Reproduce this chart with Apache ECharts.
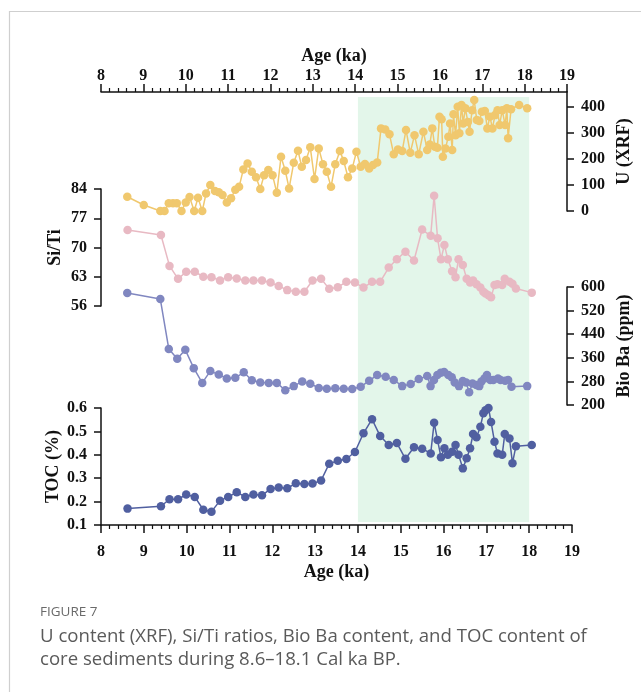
<!DOCTYPE html>
<html>
<head>
<meta charset="utf-8">
<script src="https://cdn.jsdelivr.net/npm/echarts@6/dist/echarts.min.js"></script>
<style>
  html, body { margin: 0; padding: 0; background: #fff; }
  #chart { width: 641px; height: 692px; }
</style>
</head>
<body>
<div id="chart"></div>
<script>
// U content (XRF) record
const uAge = [8.62, 9.01, 9.40, 9.50, 9.60, 9.70, 9.79, 9.90, 10.00, 10.09, 10.20, 10.29, 10.39, 10.48, 10.58, 10.69, 10.78, 10.87, 10.97, 11.07,
  11.17, 11.26, 11.36, 11.46, 11.56, 11.66, 11.76, 11.85, 11.95, 12.05, 12.15, 12.25, 12.35, 12.44, 12.55, 12.65, 12.74, 12.84, 12.94, 13.04,
  13.14, 13.24, 13.33, 13.43, 13.53, 13.64, 13.73, 13.83, 13.93, 14.03, 14.13, 14.23, 14.33, 14.42, 14.52, 14.61, 14.71, 14.81, 14.91, 15.01,
  15.11, 15.20, 15.30, 15.40, 15.50, 15.61, 15.70, 15.76, 15.82, 15.88, 15.94, 15.99, 16.04, 16.07, 16.13, 16.20, 16.24, 16.29, 16.32, 16.37,
  16.42, 16.46, 16.51, 16.55, 16.60, 16.66, 16.70, 16.76, 16.81, 16.87, 16.93, 16.99, 17.06, 17.12, 17.18, 17.24, 17.30, 17.36, 17.41, 17.47,
  17.54, 17.58, 17.61, 17.68, 17.87, 18.06];
const uValue = [55, 23, 0, 0, 30, 30, 30, 0, 33, 54, 0, 51, 0, 67, 100, 77, 72, 62, 33, 49,
  82, 93, 160, 183, 151, 130, 85, 138, 158, 138, 70, 209, 155, 87, 186, 232, 170, 196, 245, 123,
  241, 180, 151, 93, 180, 231, 192, 130, 164, 228, 170, 181, 164, 177, 187, 318, 314, 295, 218, 237,
  231, 312, 224, 292, 218, 305, 235, 256, 318, 247, 243, 363, 353, 209, 241, 286, 337, 235, 372, 292,
  401, 299, 408, 337, 395, 343, 305, 388, 427, 350, 346, 382, 385, 318, 363, 318, 369, 388, 331, 388,
  331, 395, 280, 392, 408, 395];

// Sample ages shared by Si/Ti, Bio Ba and TOC
const coreAge = [8.62, 9.40, 9.60, 9.80, 9.99, 10.19, 10.39, 10.58, 10.78, 10.97, 11.17, 11.37, 11.56, 11.76, 11.96, 12.15, 12.35, 12.55, 12.75, 12.94,
  13.14, 13.33, 13.53, 13.73, 13.93, 14.13, 14.33, 14.52, 14.72, 14.91, 15.11, 15.31, 15.50, 15.70, 15.78, 15.86, 15.94, 16.02, 16.10, 16.20,
  16.28, 16.35, 16.45, 16.54, 16.62, 16.69, 16.77, 16.86, 16.93, 16.98, 17.05, 17.11, 17.19, 17.26, 17.37, 17.43, 17.54, 17.61, 17.69, 18.06];
const siTi = [74.2, 73.0, 65.6, 62.5, 64.2, 64.2, 63.0, 62.9, 62.1, 62.9, 62.6, 62.1, 62.1, 62.1, 61.6, 60.8, 59.8, 59.4, 59.4, 62.1,
  62.5, 60.1, 60.5, 61.8, 61.6, 60.4, 61.8, 61.8, 65.2, 67.2, 69.0, 66.9, 74.3, 72.8, 82.4, 72.2, 67.2, 70.6, 67.2, 64.3,
  62.9, 67.2, 65.8, 62.5, 61.6, 62.1, 61.2, 60.4, 59.4, 59.0, 58.6, 58.1, 61.0, 61.2, 61.0, 62.5, 61.8, 61.3, 60.2, 59.2];
const bioBa = [580, 559, 390, 357, 387, 325, 275, 315, 303, 290, 292, 311, 284, 276, 275, 275, 250, 264, 280, 272,
  258, 255, 257, 255, 254, 262, 282, 302, 296, 285, 264, 271, 288, 298, 264, 285, 302, 309, 312, 302,
  294, 276, 264, 281, 276, 243, 273, 268, 264, 280, 290, 302, 285, 285, 290, 285, 282, 285, 262, 264];
const toc = [0.17, 0.18, 0.21, 0.21, 0.23, 0.22, 0.165, 0.157, 0.204, 0.22, 0.24, 0.22, 0.23, 0.227, 0.254, 0.26, 0.257, 0.278, 0.275, 0.277,
  0.29, 0.362, 0.375, 0.382, 0.412, 0.492, 0.552, 0.48, 0.442, 0.45, 0.383, 0.432, 0.426, 0.406, 0.537, 0.463, 0.39, 0.428, 0.40, 0.413,
  0.442, 0.40, 0.342, 0.385, 0.428, 0.489, 0.475, 0.52, 0.578, 0.59, 0.60, 0.54, 0.456, 0.406, 0.40, 0.489, 0.47, 0.364, 0.437, 0.442];

// Axis ticks
const ageTicks = [8, 9, 10, 11, 12, 13, 14, 15, 16, 17, 18, 19];
const uTicks = [0, 100, 200, 300, 400];
const siTiTicks = [56, 63, 70, 77, 84];
const bioBaTicks = [200, 280, 360, 440, 520, 600];
const tocTicks = [0.1, 0.2, 0.3, 0.4, 0.5, 0.6];
// Highlighted interval (ka)
const shadeRange = [14, 18];

const pairs = (xs, ys) => xs.map((x, i) => [x, ys[i]]);

const serif = 'Liberation Serif';
const axisLine = { show: true, onZero: false, lineStyle: { color: '#111', width: 1.5 } };
const tickLabel = { fontFamily: serif, fontWeight: 'bold', fontSize: 16, color: '#111' };
const nameStyle = { fontFamily: serif, fontWeight: 'bold', fontSize: 18, color: '#111' };

const L = 101, R = 69;
const grids = [
  { left: L, right: R, top: 92, height: 119 },   // U
  { left: L, right: R, top: 189, height: 117 },  // Si/Ti
  { left: L, right: R, top: 287, height: 118 },  // Bio Ba
  { left: L, right: R, top: 408, height: 117 },  // TOC
  { left: L, right: R, top: 97, height: 425 }    // shading band
];

function ageAxis(gridIndex, show, position) {
  return {
    type: 'value', gridIndex, min: 8, max: 19, interval: 1, position,
    show,
    axisLine,
    axisTick: { show: true, inside: false, length: 8, lineStyle: { color: '#111', width: 1.5 } },
    minorTick: { show: true, splitNumber: 5, length: 4, lineStyle: { color: '#111', width: 1.2 } },
    splitLine: { show: false },
    axisLabel: Object.assign({}, tickLabel, { margin: position === 'top' ? 8 : 19, customValues: ageTicks }),
    name: show ? 'Age (ka)' : '',
    nameLocation: 'middle',
    nameGap: position === 'top' ? 27 : 38,
    nameMoveOverlap: false,
    nameTextStyle: nameStyle
  };
}

function valueAxis(gridIndex, position, min, max, ticks, name, nameGap, fmt) {
  return {
    type: 'value', gridIndex, position, min, max,
    axisLine,
    axisTick: { show: true, inside: false, length: 7, customValues: ticks, lineStyle: { color: '#111', width: 1.5 } },
    splitLine: { show: false },
    axisLabel: Object.assign({}, tickLabel, { margin: 14, customValues: ticks, formatter: fmt }),
    name, nameLocation: 'middle', nameRotate: 90, nameGap,
    nameMoveOverlap: false,
    nameTextStyle: nameStyle
  };
}

function lineSeries(name, xi, yi, data, color, z) {
  return {
    name, type: 'line', xAxisIndex: xi, yAxisIndex: yi, data, z,
    symbol: 'circle', symbolSize: 8.5, showSymbol: true,
    lineStyle: { color, width: 1.5 },
    itemStyle: { color },
    clip: false, animation: false
  };
}

const chart = echarts.init(document.getElementById('chart'), null, { renderer: 'canvas' });
chart.setOption({
  backgroundColor: '#fff',
  animation: false,
  grid: grids,
  xAxis: [
    ageAxis(0, true, 'top'),
    ageAxis(1, false, 'bottom'),
    ageAxis(2, false, 'bottom'),
    ageAxis(3, true, 'bottom'),
    ageAxis(4, false, 'bottom')
  ],
  yAxis: [
    valueAxis(0, 'right', 0, 458, uTicks, 'U (XRF)', 48),
    valueAxis(1, 'left', 56, 84, siTiTicks, 'Si/Ti', 37),
    valueAxis(2, 'right', 200, 600, bioBaTicks, 'Bio Ba (ppm)', 48),
    valueAxis(3, 'left', 0.1, 0.6, tocTicks, 'TOC (%)', 39, v => v.toFixed(1)),
    { type: 'value', gridIndex: 4, min: 0, max: 1, show: false }
  ],
  series: [
    {
      type: 'line', xAxisIndex: 4, yAxisIndex: 4, data: [], z: 1, silent: true,
      markArea: {
        silent: true,
        itemStyle: { color: '#e3f6ea' },
        data: [[{ xAxis: shadeRange[0] }, { xAxis: shadeRange[1] }]]
      }
    },
    lineSeries('U (XRF)', 0, 0, pairs(uAge, uValue), '#f0c86e', 3),
    lineSeries('Si/Ti', 1, 1, pairs(coreAge, siTi), '#e8b9c3', 3),
    lineSeries('Bio Ba', 2, 2, pairs(coreAge, bioBa), '#8087c0', 3),
    lineSeries('TOC', 3, 3, pairs(coreAge, toc), '#505fa0', 4)
  ],
  graphic: [
    {
      type: 'polyline', silent: true,
      shape: { points: [[9.5, 700], [9.5, 11.5], [700, 11.5]] },
      style: { stroke: '#cfcfcf', lineWidth: 1.2, fill: null }
    },
    {
      type: 'text', left: 40, top: 605, silent: true,
      style: { text: 'FIGURE 7', fontFamily: 'Open Sans', fontSize: 13.5, fill: '#6a6a6a' }
    },
    {
      type: 'text', left: 40, top: 625, silent: true,
      style: {
        text: 'U content (XRF), Si/Ti ratios, Bio Ba content, and TOC content of\ncore sediments during 8.6\u201318.1 Cal ka BP.',
        fontFamily: 'Open Sans', fontSize: 18.6, lineHeight: 23, fill: '#5a5a5a'
      }
    }
  ]
});
</script>
</body>
</html>
